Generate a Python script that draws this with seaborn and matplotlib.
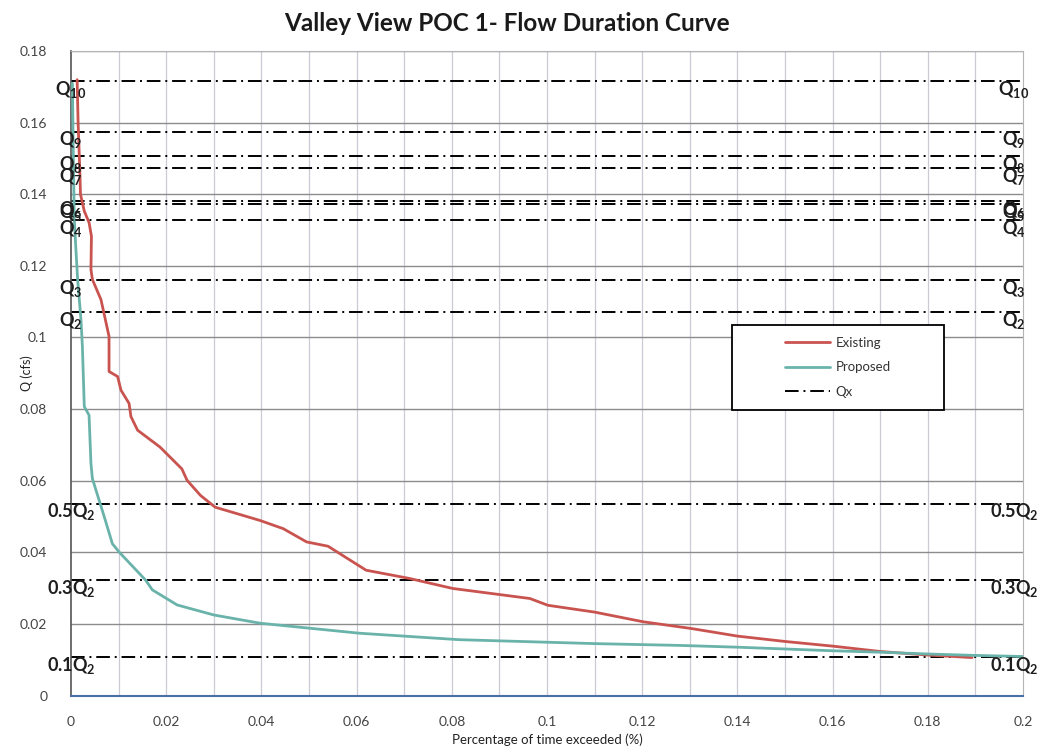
import matplotlib
matplotlib.use('Agg')
import matplotlib.pyplot as plt
from matplotlib.patches import Rectangle
import seaborn as sns


existing_x = [0.0013, 0.0015, 0.0019, 0.0020, 0.0028, 0.0038, 0.0043, 0.0042, 0.0045, 0.0063,
              0.0080, 0.0080, 0.0098, 0.0105, 0.0122, 0.0126, 0.0140, 0.0187, 0.0233, 0.0244,
              0.0272, 0.0303, 0.0397, 0.0446, 0.0495, 0.0540, 0.0620, 0.0711, 0.0802, 0.0964,
              0.1002, 0.1100, 0.1202, 0.1304, 0.1400, 0.1500, 0.1600, 0.1700, 0.1800, 0.1893]
existing_q = [0.172, 0.160, 0.145, 0.140, 0.1353, 0.1321, 0.1283, 0.1190, 0.1162, 0.1106,
              0.1003, 0.0905, 0.0891, 0.0853, 0.0816, 0.0779, 0.0741, 0.0694, 0.0633, 0.0601,
              0.0559, 0.0526, 0.0489, 0.0466, 0.0429, 0.0417, 0.0350, 0.0327, 0.0299, 0.0271,
              0.0252, 0.0233, 0.0206, 0.0187, 0.0166, 0.0151, 0.0138, 0.0123, 0.0113, 0.0106]

proposed_x = [0.0003, 0.0005, 0.0007, 0.0010, 0.0014, 0.0021, 0.0024, 0.0028, 0.0038, 0.0042,
              0.0045, 0.0070, 0.0087, 0.0101, 0.0157, 0.0171, 0.0223, 0.0300, 0.0397, 0.0606,
              0.0815, 0.1100, 0.1278, 0.1400, 0.1600, 0.1700, 0.1800, 0.1900, 0.2000]
proposed_q = [0.171, 0.150, 0.133, 0.1255, 0.1162, 0.1050, 0.0975, 0.0807, 0.0783, 0.0648,
              0.0606, 0.0499, 0.0424, 0.0401, 0.0322, 0.0295, 0.0253, 0.0225, 0.0202, 0.0174,
              0.0156, 0.0145, 0.0140, 0.0135, 0.0125, 0.0121, 0.0116, 0.0112, 0.0109]

qx_names = [r'$\mathbf{Q_{10}}$', r'$\mathbf{Q_{9}}$', r'$\mathbf{Q_{8}}$', r'$\mathbf{Q_{7}}$',
            r'$\mathbf{Q_{6}}$', r'$\mathbf{Q_{5}}$', r'$\mathbf{Q_{4}}$', r'$\mathbf{Q_{3}}$',
            r'$\mathbf{Q_{2}}$', r'$\mathbf{0.5Q_{2}}$', r'$\mathbf{0.3Q_{2}}$', r'$\mathbf{0.1Q_{2}}$']
qx_values = [0.1717, 0.1575, 0.1506, 0.1474, 0.1382, 0.1373, 0.1328, 0.1161, 0.1072,
             0.0536, 0.0322, 0.0107]

x_ticks = [0, 0.02, 0.04, 0.06, 0.08, 0.1, 0.12, 0.14, 0.16, 0.18, 0.2]
x_tick_labels = ['0', '0.02', '0.04', '0.06', '0.08', '0.1', '0.12', '0.14', '0.16', '0.18', '0.2']
y_ticks = [0, 0.02, 0.04, 0.06, 0.08, 0.1, 0.12, 0.14, 0.16, 0.18]
y_tick_labels = ['0', '0.02', '0.04', '0.06', '0.08', '0.1', '0.12', '0.14', '0.16', '0.18']


sns.set_style('white')
plt.rcParams['font.family'] = ['Lato', 'DejaVu Sans']
plt.rcParams['mathtext.fontset'] = 'custom'
plt.rcParams['mathtext.rm'] = 'Lato'
plt.rcParams['mathtext.bf'] = 'Lato:bold'

red = '#c9534f'
teal = '#6ab3aa'

fig = plt.figure(figsize=(10.39, 7.52), dpi=100)
ax = fig.add_axes([0.0683, 0.0751, 0.9163, 0.857])

# grid: vertical every 0.01 (light), horizontal every 0.02 (darker)
for gx in [i / 100 for i in range(1, 20)]:
    ax.axvline(gx, color='#c9ccd6', lw=0.9, zorder=0)
for gy in y_ticks[1:]:
    ax.axhline(gy, color='#8c8c8c', lw=1.0, zorder=0)

sns.lineplot(x=existing_x, y=existing_q, sort=False, estimator=None, color=red,
             lw=2.0, ax=ax, label='Existing', zorder=3)
sns.lineplot(x=proposed_x, y=proposed_q, sort=False, estimator=None, color=teal,
             lw=2.0, ax=ax, label='Proposed', zorder=3)

for i, (name, q) in enumerate(zip(qx_names, qx_values)):
    ax.axhline(q, color='black', lw=1.4, ls=(0, (7, 2.5, 1, 2.5)),
               label='Qx' if i == 0 else '_nolegend_', zorder=2)
    ax.text(0.0, q + 0.0006, name, ha='center', va='top', fontsize=13,
            color='#1e1e1e', zorder=6)
    ax.text(0.1981, q + 0.0006, name, ha='center', va='top', fontsize=13,
            color='#1e1e1e', zorder=6)

ax.set_xlim(0, 0.2)
ax.set_ylim(0, 0.18)
ax.set_xticks(x_ticks)
ax.set_xticklabels(x_tick_labels)
ax.set_yticks(y_ticks)
ax.set_yticklabels(y_tick_labels)
ax.tick_params(axis='x', direction='out', length=5, width=1, color='#4a6fa5',
               labelsize=10, labelcolor='#444444', pad=10)
ax.tick_params(axis='y', direction='out', length=4, width=1, color='#555555',
               labelsize=10, labelcolor='#444444', pad=13)

ax.spines['bottom'].set_color('#4a6fa5')
ax.spines['bottom'].set_linewidth(1.5)
ax.spines['left'].set_color('#555555')
ax.spines['left'].set_linewidth(1.2)
ax.spines['top'].set_color('#b5b5b5')
ax.spines['right'].set_color('#b5b5b5')

ax.set_xlabel('Percentage of time exceeded (%)', fontsize=9.5, color='#222222', labelpad=4)
ax.set_ylabel('Q (cfs)', fontsize=9, color='#222222')
ax.yaxis.set_label_coords(-0.040, 0.5)

# legend box drawn as a patch, legend entries centred inside it
ax.add_patch(Rectangle((0.6943, 0.443), 0.2227, 0.132, transform=ax.transAxes,
                       facecolor='white', edgecolor='black', lw=1.3, zorder=4))
leg = ax.legend(loc='center', bbox_to_anchor=(0.8056, 0.509), frameon=False,
                fontsize=9.5, handlelength=3.4, handletextpad=0.4, labelspacing=0.95,
                labelcolor='#333333')
leg.set_zorder(5)

fig.text(0.488, 0.969, 'Valley View POC 1- Flow Duration Curve', ha='center', va='center',
         fontsize=17.5, fontweight='bold', color='#1a1a1a')

fig.savefig('out.png', dpi=100)
